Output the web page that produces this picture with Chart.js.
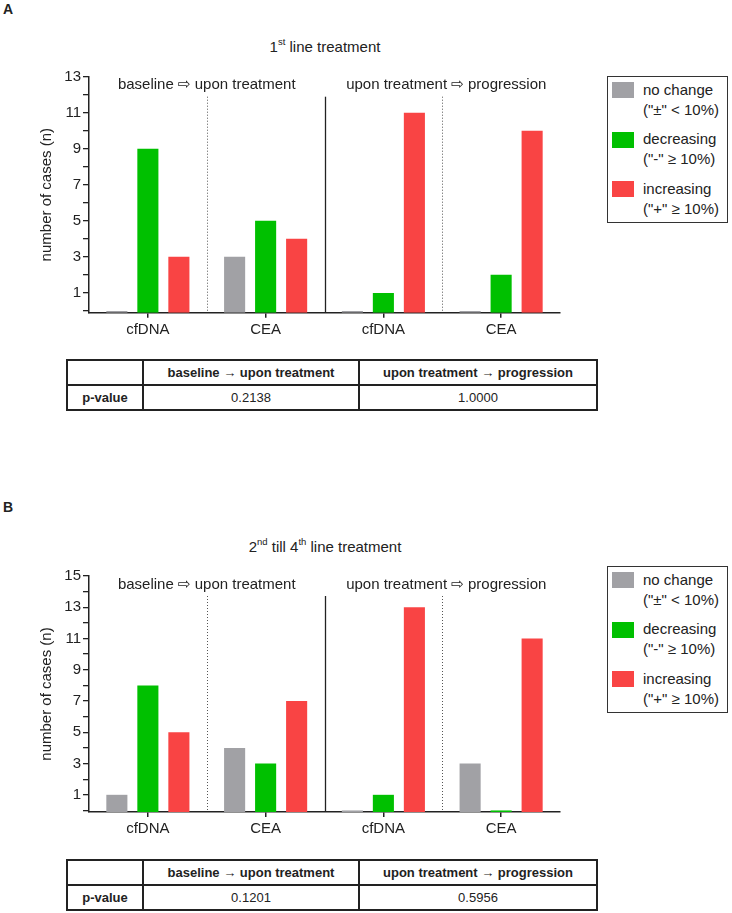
<!DOCTYPE html>
<html>
<head>
<meta charset="utf-8">
<script src="https://cdn.jsdelivr.net/npm/chart.js@4.4.0/dist/chart.umd.min.js"></script>
<style>
  body { margin: 0; background: #fff; font-family: "Liberation Sans", "DejaVu Sans", sans-serif; color: #222; }
  #page { position: relative; width: 732px; height: 913px; overflow: hidden; }
  canvas { position: absolute; left: 0; }
  .panel { position: absolute; left: 3px; font-weight: bold; font-size: 14px; }
  .title { position: absolute; left: 0; width: 650px; text-align: center; font-size: 15px; line-height: 18px; }
  .title sup { font-size: 9.5px; position: relative; top: -1px; }
  .legend { position: absolute; left: 607px; width: 119px; height: 145px; border: 1.5px solid #333; }
  .legend .sw { position: absolute; left: 4px; width: 22px; height: 16px; }
  .legend .tx { position: absolute; left: 35px; font-size: 15px; line-height: 20px; white-space: nowrap; }
  table.pv { position: absolute; left: 66px; width: 530px; table-layout: fixed; border-collapse: collapse; font-size: 13px; }
  table.pv td { border: 2px solid #222; height: 23px; padding: 0; text-align: center; white-space: nowrap; }
  table.pv tr:first-child td { font-weight: bold; }
  table.pv td.rh { font-weight: bold; }
</style>
</head>
<body>
<div id="page">
  <div class="panel" style="top:1px">A</div>
  <div class="title" style="top:34px">1<sup>st</sup> line treatment</div>
  <canvas id="chartA" width="570" height="345" style="top:0px"></canvas>
  <div class="legend" id="legendA" style="top:76px"></div>
  <table class="pv" id="tableA" style="top:359px"></table>

  <div class="panel" style="top:499px">B</div>
  <div class="title" style="top:534px">2<sup>nd</sup> till 4<sup>th</sup> line treatment</div>
  <canvas id="chartB" width="570" height="345" style="top:500px"></canvas>
  <div class="legend" id="legendB" style="top:566px"></div>
  <table class="pv" id="tableB" style="top:859px"></table>
</div>
<script>
// categories (two comparison groups, two markers each)
const categories = ["cfDNA", "CEA", "cfDNA", "CEA"];
const groupHeaders = ["baseline \u21e8 upon treatment", "upon treatment \u21e8 progression"];

// 1st line treatment
const noChangeA = [0, 3, 0, 0];
const decreasingA = [9, 5, 1, 2];
const increasingA = [3, 4, 11, 10];
const yTicksA = [0, 1, 2, 3, 4, 5, 6, 7, 8, 9, 10, 11, 12, 13];
const yLabelsA = [1, 3, 5, 7, 9, 11, 13];

// 2nd till 4th line treatment
const noChangeB = [1, 4, 0, 3];
const decreasingB = [8, 3, 1, 0];
const increasingB = [5, 7, 13, 11];
const yTicksB = [0, 1, 2, 3, 4, 5, 6, 7, 8, 9, 10, 11, 12, 13, 14, 15];
const yLabelsB = [1, 3, 5, 7, 9, 11, 13, 15];

// p-value tables
const tableHeader = ["", "baseline \u2192 upon treatment", "upon treatment \u2192 progression"];
const pValuesA = ["0.2138", "1.0000"];
const pValuesB = ["0.1201", "0.5956"];

const seriesNames = ["no change", "decreasing", "increasing"];
const seriesNotes = ['("\u00b1" < 10%)', '("-" \u2265 10%)', '("+" \u2265 10%)'];
const colors = ["#a1a1a5", "#00c000", "#f94444"];

Chart.defaults.font.family = "'Liberation Sans', 'DejaVu Sans', sans-serif";
Chart.defaults.font.size = 15;
Chart.defaults.color = "#222";

const Y_MIN = -0.1;

// separators and group headers
const groupPlugin = {
  id: "groups",
  afterDatasetsDraw(chart) {
    const { ctx, chartArea } = chart;
    const x = chart.scales.x;
    const step = x.getPixelForValue(1) - x.getPixelForValue(0);
    ctx.save();
    for (let i = 0; i < categories.length - 1; i++) {
      const px = Math.round(x.getPixelForValue(i) + step / 2) + 0.5;
      const solid = i === 1;
      ctx.lineWidth = solid ? 1.3 : 1;
      ctx.setLineDash(solid ? [] : [1, 2]);
      ctx.strokeStyle = solid ? "#222" : "#555";
      ctx.beginPath();
      ctx.moveTo(px, chartArea.top + 20);
      ctx.lineTo(px, chartArea.bottom);
      ctx.stroke();
    }
    ctx.setLineDash([]);
    ctx.fillStyle = "#222";
    ctx.font = "15px 'Liberation Sans', 'DejaVu Sans', sans-serif";
    ctx.textAlign = "center";
    ctx.textBaseline = "middle";
    groupHeaders.forEach((t, g) => {
      const cx = (x.getPixelForValue(g * 2) + x.getPixelForValue(g * 2 + 1)) / 2 + (g === 1 ? 4 : 0);
      ctx.fillText(t, cx, chartArea.top + 8.5);
    });
    ctx.restore();
  }
};

function makeChart(id, series, yTicks, yLabels, yMax, padTop) {
  const datasets = series.map((d, i) => ({
    label: seriesNames[i],
    data: d,
    backgroundColor: colors[i],
    borderWidth: 0,
    base: Y_MIN,
    categoryPercentage: 0.79,
    barPercentage: 0.68
  }));
  return new Chart(document.getElementById(id), {
    type: "bar",
    data: { labels: categories, datasets },
    plugins: [groupPlugin],
    options: {
      responsive: false,
      animation: false,
      layout: { padding: { left: 34, top: padTop, right: 10, bottom: 0 } },
      plugins: { legend: { display: false }, tooltip: { enabled: false } },
      scales: {
        x: {
          afterFit: (s) => { s.height = 345 - padTop - 236; },
          border: { color: "#222", width: 1.5 },
          grid: { offset: false, drawOnChartArea: false, tickLength: 5, color: "#222", lineWidth: 1.5 },
          ticks: { padding: 3, color: "#222" }
        },
        y: {
          min: Y_MIN,
          max: yMax,
          afterFit: (s) => { s.width = 55; },
          afterBuildTicks: (s) => { s.ticks = yTicks.map(v => ({ value: v })); },
          border: { color: "#222", width: 1.5 },
          grid: { drawOnChartArea: false, tickLength: 6, color: "#222", lineWidth: 1.3 },
          ticks: {
            padding: 2,
            color: "#222",
            autoSkip: false,
            callback: (v) => yLabels.includes(v) ? String(v) : ""
          },
          title: { display: true, text: "number of cases (n)", color: "#222", font: { size: 15 }, padding: { top: 4, bottom: 4 } }
        }
      }
    }
  });
}

makeChart("chartA", [noChangeA, decreasingA, increasingA], yTicksA, yLabelsA, 13, 76.7);
makeChart("chartB", [noChangeB, decreasingB, increasingB], yTicksB, yLabelsB, 15, 76);

function buildLegend(id) {
  const box = document.getElementById(id);
  seriesNames.forEach((name, i) => {
    const sw = document.createElement("div");
    sw.className = "sw";
    sw.style.top = (5 + i * 49.5) + "px";
    sw.style.background = colors[i];
    box.appendChild(sw);
    const tx = document.createElement("div");
    tx.className = "tx";
    tx.style.top = (2.5 + i * 49.5) + "px";
    tx.innerHTML = name + "<br>" + seriesNotes[i].replace(/</g, "&lt;");
    box.appendChild(tx);
  });
}
buildLegend("legendA");
buildLegend("legendB");

function buildTable(id, values) {
  const t = document.getElementById(id);
  const cg = document.createElement("colgroup");
  [76, 216, 238].forEach(w => { const c = document.createElement("col"); c.style.width = w + "px"; cg.appendChild(c); });
  t.appendChild(cg);
  const r1 = t.insertRow();
  tableHeader.forEach(h => { const c = r1.insertCell(); c.textContent = h; });
  const r2 = t.insertRow();
  const rh = r2.insertCell(); rh.textContent = "p-value"; rh.className = "rh";
  values.forEach(v => { const c = r2.insertCell(); c.textContent = v; });
}
buildTable("tableA", pValuesA);
buildTable("tableB", pValuesB);
</script>
</body>
</html>
